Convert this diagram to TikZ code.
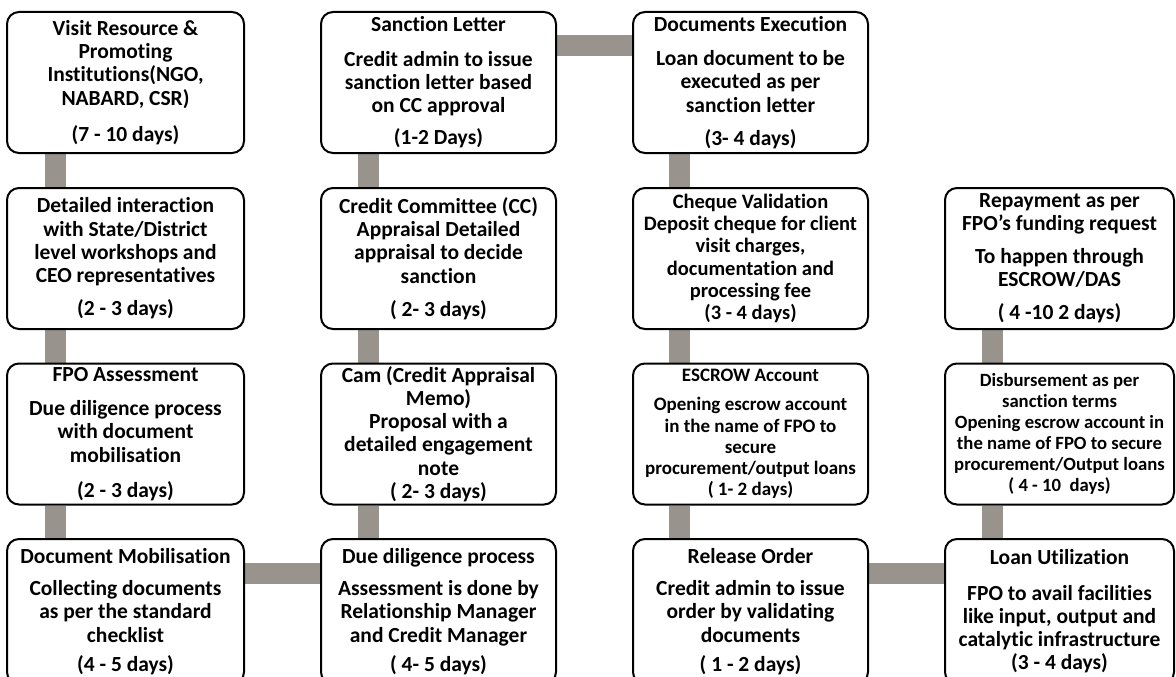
\documentclass[tikz,border=0pt]{standalone}
\usepackage{fontspec}
\setmainfont{Carlito}[Ligatures=NoCommon]
\usetikzlibrary{backgrounds}
\definecolor{barc}{RGB}{152,148,141}
\begin{document}
\begin{tikzpicture}[x=1pt,y=-1pt,
  box/.style={draw=black, line width=2pt, rounded corners=12pt, fill=white,
    align=center, inner sep=0pt, font=\fontsize{21.5}{23.3}\selectfont\bfseries},
  small/.style={font=\fontsize{19}{21.3}\selectfont\bfseries},
  colA/.style={minimum width=237pt},
  colB/.style={minimum width=235pt},
  colD/.style={minimum width=229pt},
  rowA/.style={minimum height=141pt},
  rowD/.style={minimum height=145pt},
  bar/.style={draw=barc, line width=21pt}]
\useasboundingbox (0,0) rectangle (1176,677);
\clip (0,0) rectangle (1176,677);
% column 1
\node[box,colA,rowA] (a1) at (125.5,82.5) {Visit Resource \&\\Promoting\\Institutions(NGO,\\NABARD, CSR)\\[13pt](7 - 10 days)};
\node[box,colA,rowA] (a2) at (125.5,258.5) {Detailed interaction\\with State/District\\level workshops and\\CEO representatives\\[10pt](2 - 3 days)};
\node[box,colA,rowA] (a3) at (125.5,434) {FPO Assessment\\[11pt]Due diligence process\\with document\\mobilisation\\[12pt](2 - 3 days)};
\node[box,colA,rowD] (a4) at (125.5,611.5) {Document Mobilisation\\[9pt]Collecting documents\\as per the standard\\checklist\\[6pt](4 - 5 days)};
% column 2
\node[box,colB,rowA] (b1) at (438.5,82.5) {Sanction Letter\\[11pt]Credit admin to issue\\sanction letter based\\on CC approval\\[9pt](1-2 Days)};
\node[box,colB,rowA] (b2) at (438.5,258.5) {Credit Committee (CC)\\Appraisal Detailed\\appraisal to decide\\sanction\\[10pt]( 2- 3 days)};
\node[box,colB,rowA] (b3) at (438.5,434) {Cam (Credit Appraisal\\Memo)\\Proposal with a\\detailed engagement\\note\\( 2- 3 days)};
\node[box,colB,rowD] (b4) at (438.5,611.5) {Due diligence process\\[9pt]Assessment is done by\\Relationship Manager\\and Credit Manager\\[6pt]( 4- 5 days)};
% column 3
\node[box,colB,rowA] (c1) at (750.5,82.5) {Documents Execution\\[11pt]Loan document to be\\executed as per\\sanction letter\\[10pt](3- 4 days)};
\node[box,colB,rowA,font=\fontsize{20.5}{22.3}\selectfont\bfseries] (c2) at (750.5,258.5) {Cheque Validation\\Deposit cheque for client\\visit charges,\\documentation and\\processing fee\\(3 - 4 days)};
\node[box,colB,rowA,small] (c3) at (750.5,434) {ESCROW Account\\[8pt]Opening escrow account\\in the name of FPO to\\secure\\procurement/output loans\\( 1- 2 days)};
\node[box,colB,rowD] (c4) at (750.5,611.5) {Release Order\\[9pt]Credit admin to issue\\order by validating\\documents\\[6pt]( 1 - 2 days)};
% column 4
\node[box,colD,rowA] (d2) at (1059.5,258.5) {Repayment as per\\FPO{\char"0027}s funding request\\[9pt]To happen through\\ESCROW/DAS\\[10pt]( 4 -10 2 days)};
\node[box,colD,rowA,font=\fontsize{18.7}{21}\selectfont\bfseries] (d3) at (1059.5,434) {Disbursement as per\\sanction terms\\Opening escrow account in\\the name of FPO to secure\\procurement/Output loans\\( 4 - 10\ \ days)};
\node[box,colD,rowD] (d4) at (1059.5,611.5) {Loan Utilization\\[12pt]FPO to avail facilities\\like input, output and\\catalytic infrastructure\\(3 - 4 days)};
% connectors
\begin{scope}[on background layer]
\draw[bar] ([xshift=49pt]a1.south west) -- ([xshift=49pt]a2.north west);
\draw[bar] ([xshift=49pt]a2.south west) -- ([xshift=49pt]a3.north west);
\draw[bar] ([xshift=49pt]a3.south west) -- ([xshift=49pt]a4.north west);
\draw[bar] ([yshift=-35pt]a4.north east) -- ([yshift=-35pt]b4.north west);
\draw[bar] ([xshift=48pt]b4.north west) -- ([xshift=48pt]b3.south west);
\draw[bar] ([xshift=48pt]b3.north west) -- ([xshift=48pt]b2.south west);
\draw[bar] ([xshift=48pt]b2.north west) -- ([xshift=48pt]b1.south west);
\draw[bar] ([yshift=-35pt]b1.north east) -- ([yshift=-35pt]c1.north west);
\draw[bar] ([xshift=47pt]c1.south west) -- ([xshift=47pt]c2.north west);
\draw[bar] ([xshift=47pt]c2.south west) -- ([xshift=47pt]c3.north west);
\draw[bar] ([xshift=47pt]c3.south west) -- ([xshift=47pt]c4.north west);
\draw[bar] ([yshift=-35pt]c4.north east) -- ([yshift=-35pt]d4.north west);
\draw[bar] ([xshift=48pt]d4.north west) -- ([xshift=48pt]d3.south west);
\draw[bar] ([xshift=48pt]d3.north west) -- ([xshift=48pt]d2.south west);
\end{scope}
\end{tikzpicture}
\end{document}
